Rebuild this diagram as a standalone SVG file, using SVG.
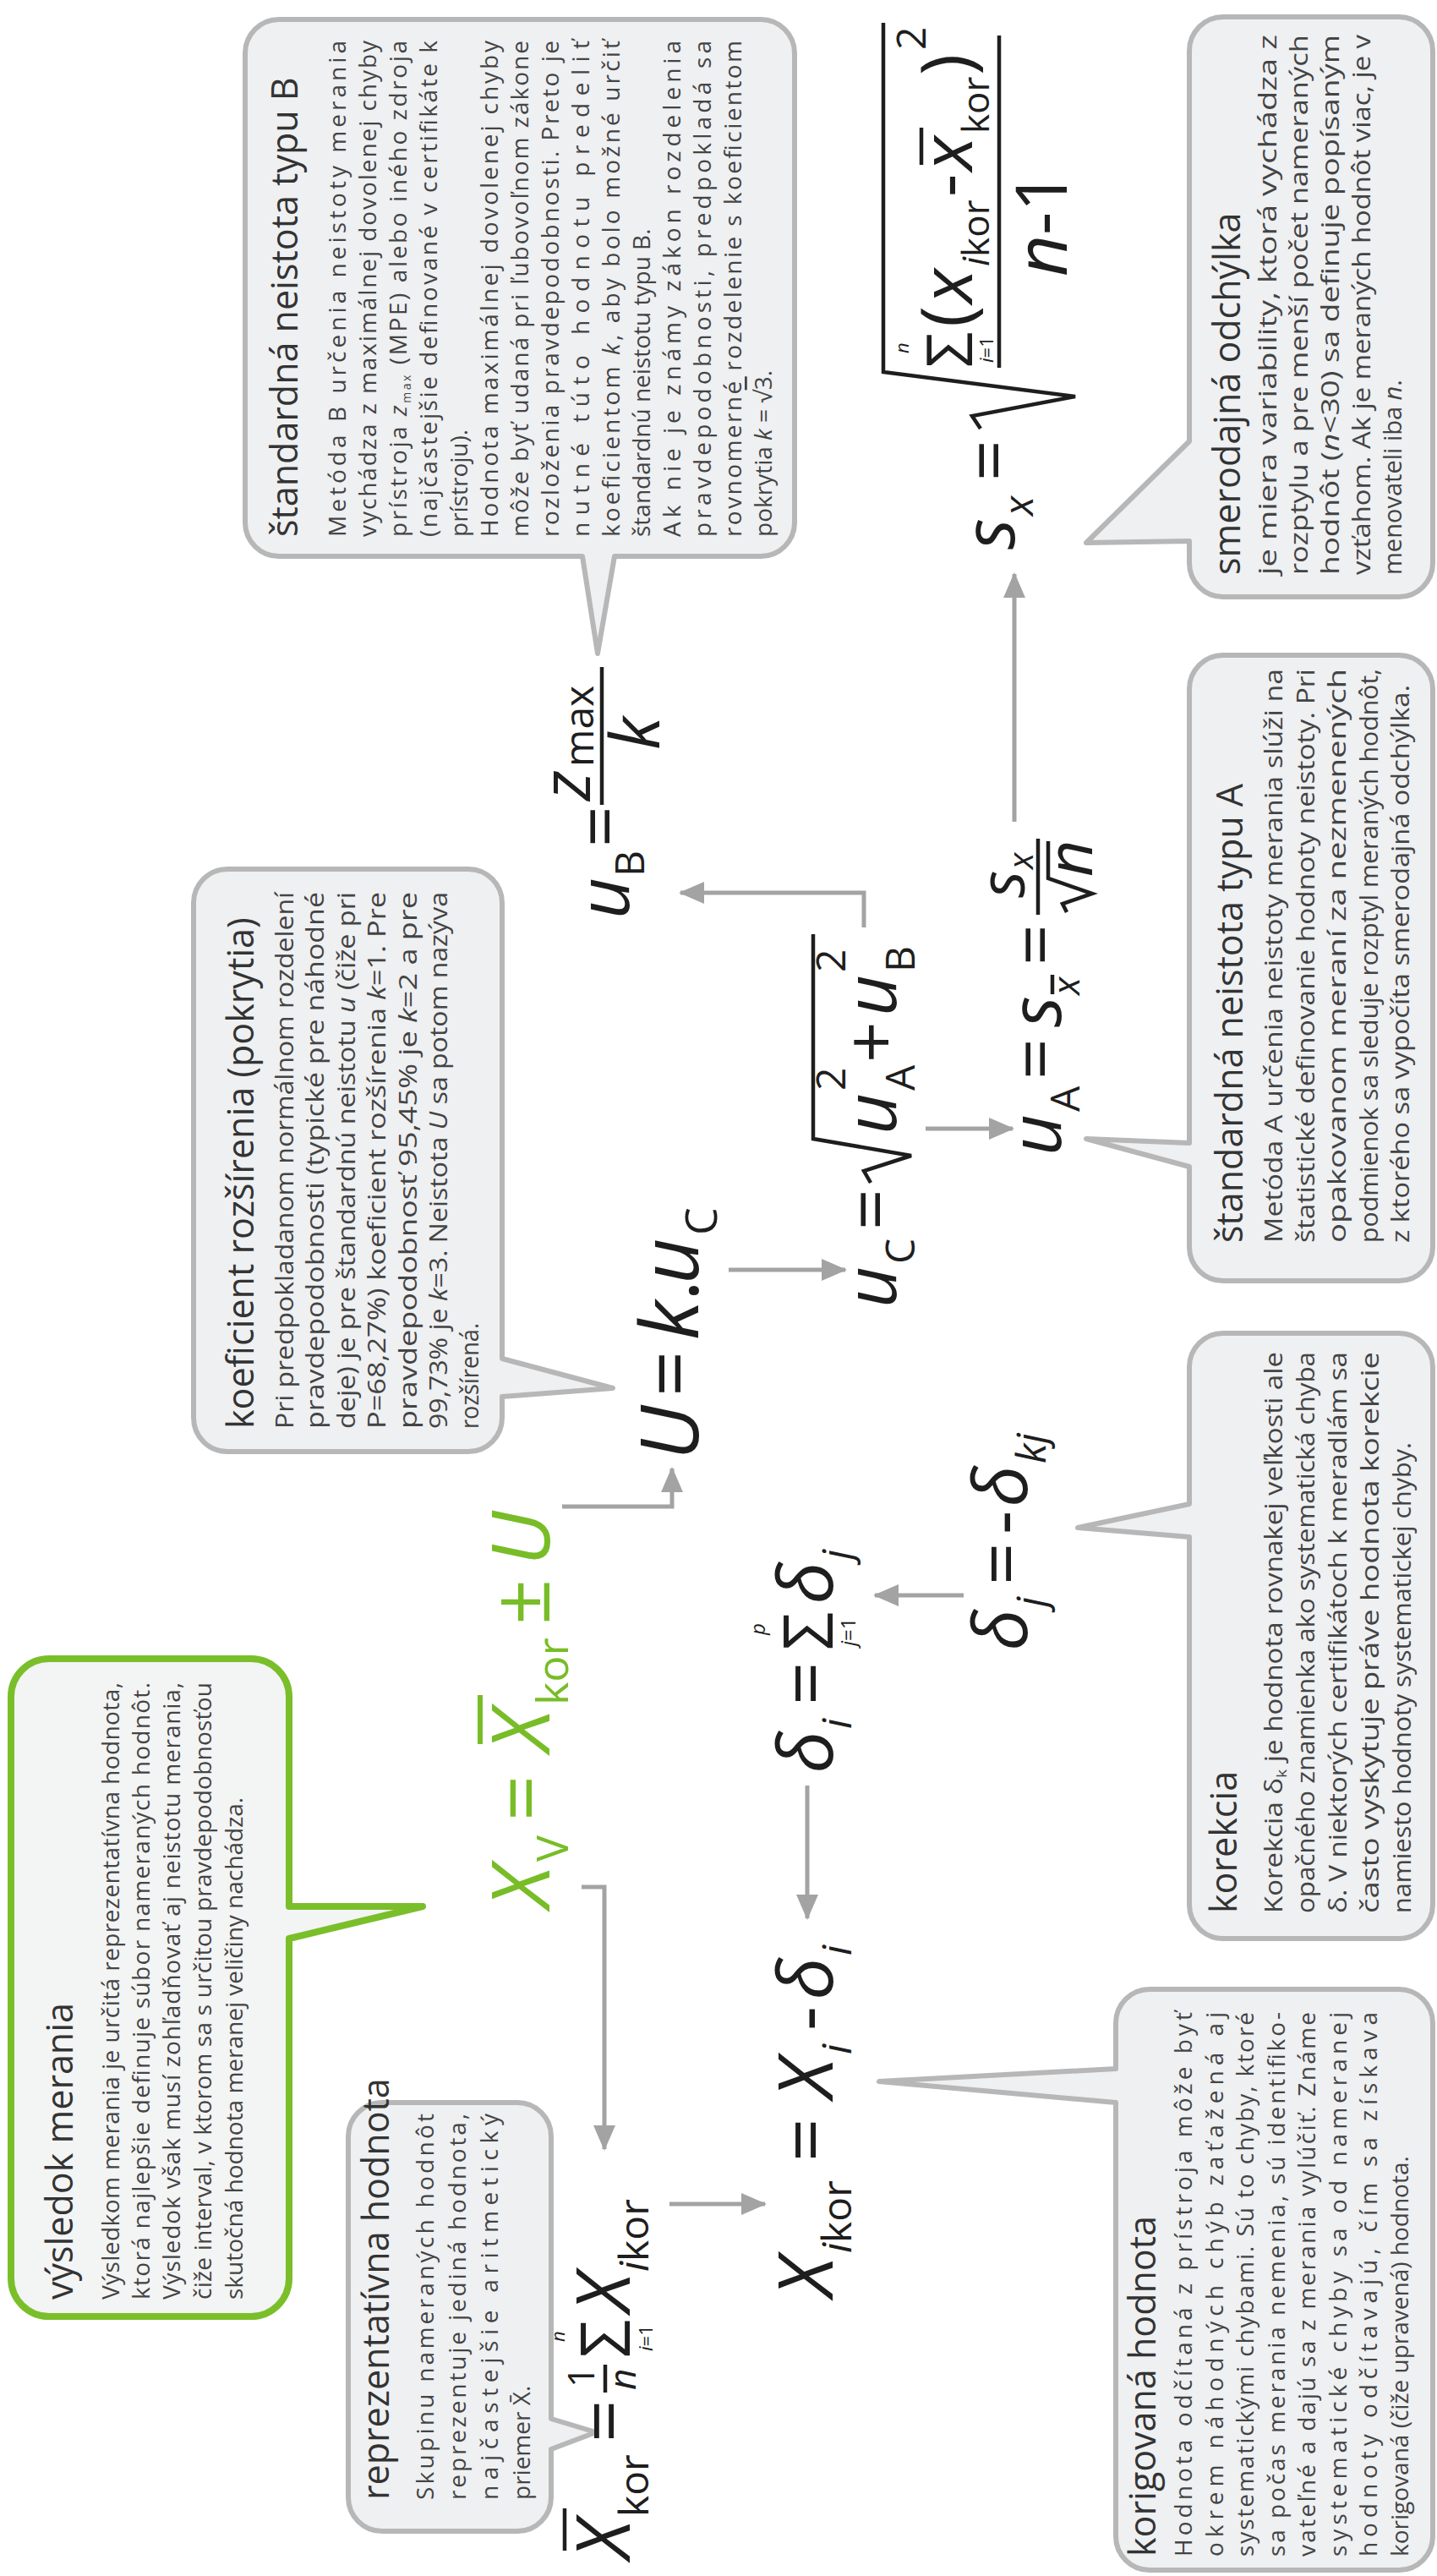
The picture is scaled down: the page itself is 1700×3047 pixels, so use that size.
<svg xmlns="http://www.w3.org/2000/svg" width="1700" height="3047" viewBox="0 0 1700 3047">
<defs>
<style>
.box{fill:#eef0f2;stroke:#b7b7b7;stroke-width:6;stroke-linejoin:round}
.gbox{fill:#f3f4f4;stroke:#7abf2a;stroke-width:8;stroke-linejoin:round}
.t{font-family:"Open Sans","Liberation Sans",sans-serif;font-size:43px;fill:#333}
.b{font-family:"Open Sans","Liberation Sans",sans-serif;font-size:28px;fill:#444}
.bc{font-family:"Open Sans","Liberation Sans",sans-serif;font-size:29px;fill:#444}
.f{font-family:"Open Sans","Liberation Sans",sans-serif;font-style:italic;fill:#1e1e1e}
.u{font-style:normal}
.g{fill:#78bd27}
.con{fill:none;stroke:#a3a3a3;stroke-width:5}
.rad{fill:none;stroke:#1e1e1e;stroke-width:4.5;stroke-linejoin:miter}
.bar{stroke:#1e1e1e;stroke-width:4.5}
</style>
<marker id="ah" markerUnits="userSpaceOnUse" viewBox="0 0 30 26" refX="28" refY="13" markerWidth="30" markerHeight="26" orient="auto"><path d="M0,0 L30,13 L0,26 z" fill="#a3a3a3"/></marker>
</defs>
<rect width="1700" height="3047" fill="#fff"/>
<g transform="translate(0,3047) rotate(-90)">

<g id="connectors">
<path class="con" marker-end="url(#ah)" d="M815,688 V715 H505"/>
<path class="con" marker-end="url(#ah)" d="M440,792 V905"/>
<path class="con" marker-end="url(#ah)" d="M935,955 H778"/>
<path class="con" marker-end="url(#ah)" d="M1160,1140 V1035"/>
<path class="con" marker-end="url(#ah)" d="M1265,665 V795 H1310"/>
<path class="con" marker-end="url(#ah)" d="M1545,862 V1000"/>
<path class="con" marker-end="url(#ah)" d="M1950,1022 H1991 V805"/>
<path class="con" marker-end="url(#ah)" d="M1712,1095 V1198"/>
<path class="con" marker-end="url(#ah)" d="M2075,1200 H2368"/>
</g>

<g id="vysledok">
<path class="gbox" d="M352,13 H1040 A45,45 0 0 1 1085,58 V297 A45,45 0 0 1 1040,342 H792 L792,500 L754,342 H352 A45,45 0 0 1 307,297 V58 A45,45 0 0 1 352,13 Z"/>
<text class="t" x="327" y="86">výsledok merania</text>
<text class="b" x="327" y="141" textLength="730">Výsledkom merania je určitá reprezentatívna hodnota,</text>
<text class="b" x="327" y="177" textLength="730">ktorá najlepšie definuje súbor nameraných hodnôt.</text>
<text class="b" x="327" y="213" textLength="730">Výsledok však musí zohľadňovať aj neistotu merania,</text>
<text class="b" x="327" y="250" textLength="730">čiže interval, v ktorom sa s určitou pravdepodobnosťou</text>
<text class="b" x="327" y="287">skutočná hodnota meranej veličiny nachádza.</text>
</g>

<g id="reprezentativna">
<path class="box" d="M93,412 H520 A40,40 0 0 1 560,452 V612 A40,40 0 0 1 520,652 H186 L170,705 L150,652 H93 A40,40 0 0 1 53,612 V452 A40,40 0 0 1 93,412 Z"/>
<text class="t" x="90" y="460">reprezentatívna hodnota</text>
<text class="b" x="90" y="513" textLength="457">Skupinu nameraných hodnôt</text>
<text class="b" x="90" y="551" textLength="457">reprezentuje jediná hodnota,</text>
<text class="b" x="90" y="589" textLength="457">najčastejšie aritmetický</text>
<text class="b" x="90" y="627">priemer X̄.</text>
</g>

<g id="koeficient">
<path class="box" d="M1370,229 H1979 A40,40 0 0 1 2019,269 V554 A40,40 0 0 1 1979,594 H1440 L1405,725 L1395,594 H1370 A40,40 0 0 1 1330,554 V269 A40,40 0 0 1 1370,229 Z"/>
<text class="t" x="1357" y="300">koeficient rozšírenia (pokrytia)</text>
<text class="bc" x="1357" y="347" textLength="635" lengthAdjust="spacingAndGlyphs">Pri predpokladanom normálnom rozdelení</text>
<text class="bc" x="1357" y="383" textLength="635" lengthAdjust="spacingAndGlyphs">pravdepodobnosti (typické pre náhodné</text>
<text class="bc" x="1357" y="420" textLength="635" lengthAdjust="spacingAndGlyphs">deje) je pre štandardnú neistotu <tspan font-style="italic">u</tspan> (čiže pri</text>
<text class="bc" x="1357" y="456" textLength="635" lengthAdjust="spacingAndGlyphs">P=68,27%) koeficient rozšírenia <tspan font-style="italic">k</tspan>=1. Pre</text>
<text class="bc" x="1357" y="493" textLength="635" lengthAdjust="spacingAndGlyphs">pravdepodobnosť 95,45% je <tspan font-style="italic">k</tspan>=2 a pre</text>
<text class="bc" x="1357" y="529" textLength="635" lengthAdjust="spacingAndGlyphs">99,73% je <tspan font-style="italic">k</tspan>=3. Neistota <tspan font-style="italic">U</tspan> sa potom nazýva</text>
<text class="bc" x="1357" y="566" textLength="125" lengthAdjust="spacingAndGlyphs">rozšírená.</text>
</g>

<g id="typB">
<path class="box" d="M2429,290 H2984 A40,40 0 0 1 3024,330 V900 A40,40 0 0 1 2984,940 H2429 A40,40 0 0 1 2389,900 V727 L2274,707 L2389,689 V330 A40,40 0 0 1 2429,290 Z"/>
<text class="t" x="2412" y="352">štandardná neistota typu B</text>
<text class="b" x="2412" y="409" textLength="587">Metóda B určenia neistoty merania</text>
<text class="b" x="2412" y="445" textLength="587">vychádza z maximálnej dovolenej chyby</text>
<text class="b" x="2412" y="481" textLength="587">prístroja <tspan font-style="italic">z</tspan><tspan font-size="14" dy="5">max</tspan><tspan dy="-5"> (MPE) alebo iného zdroja</tspan></text>
<text class="b" x="2412" y="517" textLength="587">(najčastejšie definované v certifikáte k</text>
<text class="b" x="2412" y="553">prístroju).</text>
<text class="b" x="2412" y="589" textLength="587">Hodnota maximálnej dovolenej chyby</text>
<text class="b" x="2412" y="625" textLength="587">môže byť udaná pri ľubovoľnom zákone</text>
<text class="b" x="2412" y="661" textLength="587">rozloženia pravdepodobnosti. Preto je</text>
<text class="b" x="2412" y="697" textLength="587">nutné túto hodnotu predeliť</text>
<text class="b" x="2412" y="733" textLength="587">koeficientom <tspan font-style="italic">k</tspan>, aby bolo možné určiť</text>
<text class="b" x="2412" y="769">štandardnú neistotu typu B.</text>
<text class="b" x="2412" y="805" textLength="587">Ak nie je známy zákon rozdelenia</text>
<text class="b" x="2412" y="841" textLength="587">pravdepodobnosti, predpokladá sa</text>
<text class="b" x="2412" y="877" textLength="587">rovnomerné rozdelenie s koeficientom</text>
<text class="b" x="2412" y="913">pokrytia <tspan font-style="italic">k</tspan> = √<tspan text-decoration="overline">3</tspan>.</text>
</g>

<g id="korigovana">
<path class="box" d="M47,1320 H560 L585,1040 L600,1320 H654 A40,40 0 0 1 694,1360 V1655 A40,40 0 0 1 654,1695 H47 A40,40 0 0 1 7,1655 V1360 A40,40 0 0 1 47,1320 Z"/>
<text class="t" x="23" y="1367">korigovaná hodnota</text>
<text class="b" x="23" y="1410" textLength="644">Hodnota odčítaná z prístroja môže byť</text>
<text class="b" x="23" y="1447" textLength="644">okrem náhodných chýb zaťažená aj</text>
<text class="b" x="23" y="1483" textLength="644">systematickými chybami. Sú to chyby, ktoré</text>
<text class="b" x="23" y="1520" textLength="644">sa počas merania nemenia, sú identifiko-</text>
<text class="b" x="23" y="1556" textLength="644">vateľné a dajú sa z merania vylúčiť. Známe</text>
<text class="b" x="23" y="1593" textLength="644">systematické chyby sa od nameranej</text>
<text class="b" x="23" y="1629" textLength="644">hodnoty odčítavajú, čím sa získava</text>
<text class="b" x="23" y="1666">korigovaná (čiže upravená) hodnota.</text>
</g>

<g id="korekcia">
<path class="box" d="M794,1407 H1229 L1240,1275 L1268,1407 H1430 A40,40 0 0 1 1470,1447 V1655 A40,40 0 0 1 1430,1695 H794 A40,40 0 0 1 754,1655 V1447 A40,40 0 0 1 794,1407 Z"/>
<text class="t" x="784" y="1463">korekcia</text>
<text class="bc" x="784" y="1517" textLength="664" lengthAdjust="spacingAndGlyphs">Korekcia δ<tspan font-size="17" dy="5">k</tspan><tspan dy="-5"> je hodnota rovnakej veľkosti ale</tspan></text>
<text class="bc" x="784" y="1555" textLength="664" lengthAdjust="spacingAndGlyphs">opačného znamienka ako systematická chyba</text>
<text class="bc" x="784" y="1593" textLength="664" lengthAdjust="spacingAndGlyphs">δ. V niektorých certifikátoch k meradlám sa</text>
<text class="bc" x="784" y="1631" textLength="664" lengthAdjust="spacingAndGlyphs">často vyskytuje práve hodnota korekcie</text>
<text class="bc" x="784" y="1669" textLength="557" lengthAdjust="spacingAndGlyphs">namiesto hodnoty systematickej chyby.</text>
</g>

<g id="typA">
<path class="box" d="M1572,1407 H1667 L1700,1285 L1695,1407 H2232 A40,40 0 0 1 2272,1447 V1655 A40,40 0 0 1 2232,1695 H1572 A40,40 0 0 1 1532,1655 V1447 A40,40 0 0 1 1572,1407 Z"/>
<text class="t" x="1577" y="1470">štandardná neistota typu A</text>
<text class="bc" x="1577" y="1517" textLength="679" lengthAdjust="spacingAndGlyphs">Metóda A určenia neistoty merania slúži na</text>
<text class="bc" x="1577" y="1555" textLength="679" lengthAdjust="spacingAndGlyphs">štatistické definovanie hodnoty neistoty. Pri</text>
<text class="bc" x="1577" y="1592" textLength="679" lengthAdjust="spacingAndGlyphs">opakovanom meraní za nezmenených</text>
<text class="bc" x="1577" y="1630" textLength="679" lengthAdjust="spacingAndGlyphs">podmienok sa sleduje rozptyl meraných hodnôt,</text>
<text class="bc" x="1577" y="1667" textLength="660" lengthAdjust="spacingAndGlyphs">z ktorého sa vypočíta smerodajná odchýlka.</text>
</g>

<g id="smerodajna">
<path class="box" d="M2381,1407 H2407 L2405,1285 L2525,1407 H2987 A40,40 0 0 1 3027,1447 V1655 A40,40 0 0 1 2987,1695 H2381 A40,40 0 0 1 2341,1655 V1447 A40,40 0 0 1 2381,1407 Z"/>
<text class="t" x="2367" y="1467">smerodajná odchýlka</text>
<text class="bc" x="2367" y="1510" textLength="639" lengthAdjust="spacingAndGlyphs">je miera variability, ktorá vychádza z</text>
<text class="bc" x="2367" y="1547" textLength="639" lengthAdjust="spacingAndGlyphs">rozptylu a pre menší počet nameraných</text>
<text class="bc" x="2367" y="1584" textLength="639" lengthAdjust="spacingAndGlyphs">hodnôt (<tspan font-style="italic">n</tspan>&lt;30) sa definuje popísaným</text>
<text class="bc" x="2367" y="1621" textLength="639" lengthAdjust="spacingAndGlyphs">vzťahom. Ak je meraných hodnôt viac, je v</text>
<text class="bc" x="2367" y="1658" textLength="231" lengthAdjust="spacingAndGlyphs">menovateli iba <tspan font-style="italic">n</tspan>.</text>
</g>

<g id="f-xv">
<text class="f g" x="790" y="650" font-size="95">X</text>
<text class="f u g" x="845" y="672" font-size="52">V</text>
<text class="f u g" x="893" y="650" font-size="95">=</text>
<text class="f g" x="975" y="650" font-size="95">X</text>
<line x1="984" y1="568" x2="1042" y2="568" stroke="#78bd27" stroke-width="6"/>
<text class="f u g" x="1030" y="672" font-size="52">kor</text>
<text class="f u g" x="1125" y="650" font-size="95">±</text>
<text class="f g" x="1195" y="650" font-size="95">U</text>
</g>

<g id="f-xkor">
<text class="f" x="20" y="745" font-size="88">X</text>
<line class="bar" x1="30" y1="668" x2="80" y2="668"/>
<text class="f u" x="70" y="767" font-size="48">kor</text>
<text class="f u" x="158" y="745" font-size="88">=</text>
<text class="f u" x="223" y="703" font-size="44">1</text>
<line class="bar" x1="217" y1="716" x2="250" y2="716"/>
<text class="f" x="220" y="752" font-size="44">n</text>
<text class="f u" x="258" y="745" font-size="80">Σ</text>
<text class="f" x="277" y="668" font-size="22">n</text>
<text class="f" x="266" y="772" font-size="22">i<tspan class="u">=1</tspan></text>
<text class="f" x="312" y="745" font-size="88">X</text>
<text class="f" x="360" y="767" font-size="48">i<tspan class="u">kor</tspan></text>
</g>

<g id="f-xikor">
<text class="f" x="330" y="985" font-size="90">X</text>
<text class="f" x="382" y="1007" font-size="48">i<tspan class="u">kor</tspan></text>
<text class="f u" x="490" y="985" font-size="90">=</text>
<text class="f" x="565" y="985" font-size="90">X</text>
<text class="f" x="617" y="1007" font-size="48">i</text>
<text class="f u" x="645" y="985" font-size="90">-</text>
<text class="f" x="682" y="985" font-size="90">δ</text>
<text class="f" x="734" y="1007" font-size="48">i</text>
</g>

<g id="f-deltai">
<text class="f" x="950" y="985" font-size="90">δ</text>
<text class="f" x="1002" y="1007" font-size="48">i</text>
<text class="f u" x="1030" y="985" font-size="90">=</text>
<text class="f u" x="1095" y="985" font-size="80">Σ</text>
<text class="f" x="1113" y="905" font-size="24">p</text>
<text class="f" x="1100" y="1012" font-size="24">j<tspan class="u">=1</tspan></text>
<text class="f" x="1150" y="985" font-size="90">δ</text>
<text class="f" x="1202" y="1007" font-size="48">j</text>
</g>

<g id="f-deltaj">
<text class="f" x="1095" y="1215" font-size="88">δ</text>
<text class="f" x="1146" y="1237" font-size="48">j</text>
<text class="f u" x="1172" y="1215" font-size="88">=</text>
<text class="f u" x="1232" y="1215" font-size="88">-</text>
<text class="f" x="1265" y="1215" font-size="88">δ</text>
<text class="f" x="1316" y="1237" font-size="48">kj</text>
</g>

<g id="f-U">
<text class="f" x="1320" y="826" font-size="95">U</text>
<text class="f u" x="1395" y="826" font-size="95">=</text>
<text class="f" x="1462" y="826" font-size="95">k</text>
<text class="f u" x="1508" y="826" font-size="95">.</text>
<text class="f" x="1528" y="826" font-size="95">u</text>
<text class="f u" x="1586" y="848" font-size="52">C</text>
</g>

<g id="f-uC">
<text class="f" x="1500" y="1060" font-size="85">u</text>
<text class="f u" x="1552" y="1082" font-size="48">C</text>
<text class="f u" x="1592" y="1060" font-size="85">=</text>
<path class="rad" d="M1648,1030 L1662,1022 L1680,1078 L1700,962 H1942"/>
<text class="f" x="1705" y="1060" font-size="85">u</text>
<text class="f u" x="1757" y="1000" font-size="48">2</text>
<text class="f u" x="1757" y="1082" font-size="48">A</text>
<text class="f u" x="1790" y="1060" font-size="85">+</text>
<text class="f" x="1845" y="1060" font-size="85">u</text>
<text class="f u" x="1897" y="1000" font-size="48">2</text>
<text class="f u" x="1897" y="1082" font-size="48">B</text>
</g>

<g id="f-uB">
<text class="f" x="1960" y="744" font-size="85">u</text>
<text class="f u" x="2010" y="762" font-size="48">B</text>
<text class="f u" x="2045" y="740" font-size="85">=</text>
<line class="bar" x1="2095" y1="712" x2="2258" y2="712"/>
<text class="f" x="2100" y="698" font-size="80">z</text>
<text class="f u" x="2140" y="702" font-size="48">max</text>
<text class="f" x="2160" y="780" font-size="80">k</text>
</g>

<g id="f-uA">
<text class="f" x="1680" y="1255" font-size="85">u</text>
<text class="f u" x="1732" y="1277" font-size="48">A</text>
<text class="f u" x="1770" y="1255" font-size="85">=</text>
<text class="f" x="1832" y="1255" font-size="85">s</text>
<text class="f" x="1870" y="1277" font-size="44">x</text>
<line class="bar" x1="1871" y1="1245" x2="1894" y2="1245" stroke-width="3"/>
<text class="f u" x="1905" y="1255" font-size="85">=</text>
<line class="bar" x1="1965" y1="1228" x2="2055" y2="1228"/>
<text class="f" x="1985" y="1212" font-size="75">s</text>
<text class="f" x="2019" y="1222" font-size="40">x</text>
<path class="rad" d="M1968,1262 L1978,1257 L1990,1292 L2008,1240 H2052" stroke-width="3.5"/>
<text class="f" x="2010" y="1292" font-size="75">n</text>
</g>

<g id="f-sx">
<text class="f" x="2397" y="1200" font-size="85">s</text>
<text class="f" x="2437" y="1222" font-size="48">x</text>
<text class="f u" x="2478" y="1200" font-size="85">=</text>
<path class="rad" d="M2540,1160 L2555,1150 L2578,1272 L2607,1045 H3020"/>
<text class="f u" x="2612" y="1150" font-size="75">Σ</text>
<text class="f" x="2629" y="1075" font-size="22">n</text>
<text class="f" x="2618" y="1175" font-size="22">i<tspan class="u">=1</tspan></text>
<text class="f u" x="2660" y="1150" font-size="85">(</text>
<text class="f" x="2688" y="1150" font-size="85">x</text>
<text class="f" x="2732" y="1170" font-size="44">i<tspan class="u">kor</tspan></text>
<text class="f u" x="2814" y="1150" font-size="85">-</text>
<text class="f" x="2845" y="1150" font-size="85">x</text>
<line class="bar" x1="2852" y1="1090" x2="2896" y2="1090"/>
<text class="f u" x="2889" y="1170" font-size="44">kor</text>
<text class="f u" x="2958" y="1150" font-size="85">)</text>
<text class="f u" x="2988" y="1095" font-size="48">2</text>
<line class="bar" x1="2612" y1="1182" x2="3005" y2="1182"/>
<text class="f" x="2720" y="1262" font-size="85">n<tspan class="u">-1</tspan></text>
</g>

</g>
</svg>
